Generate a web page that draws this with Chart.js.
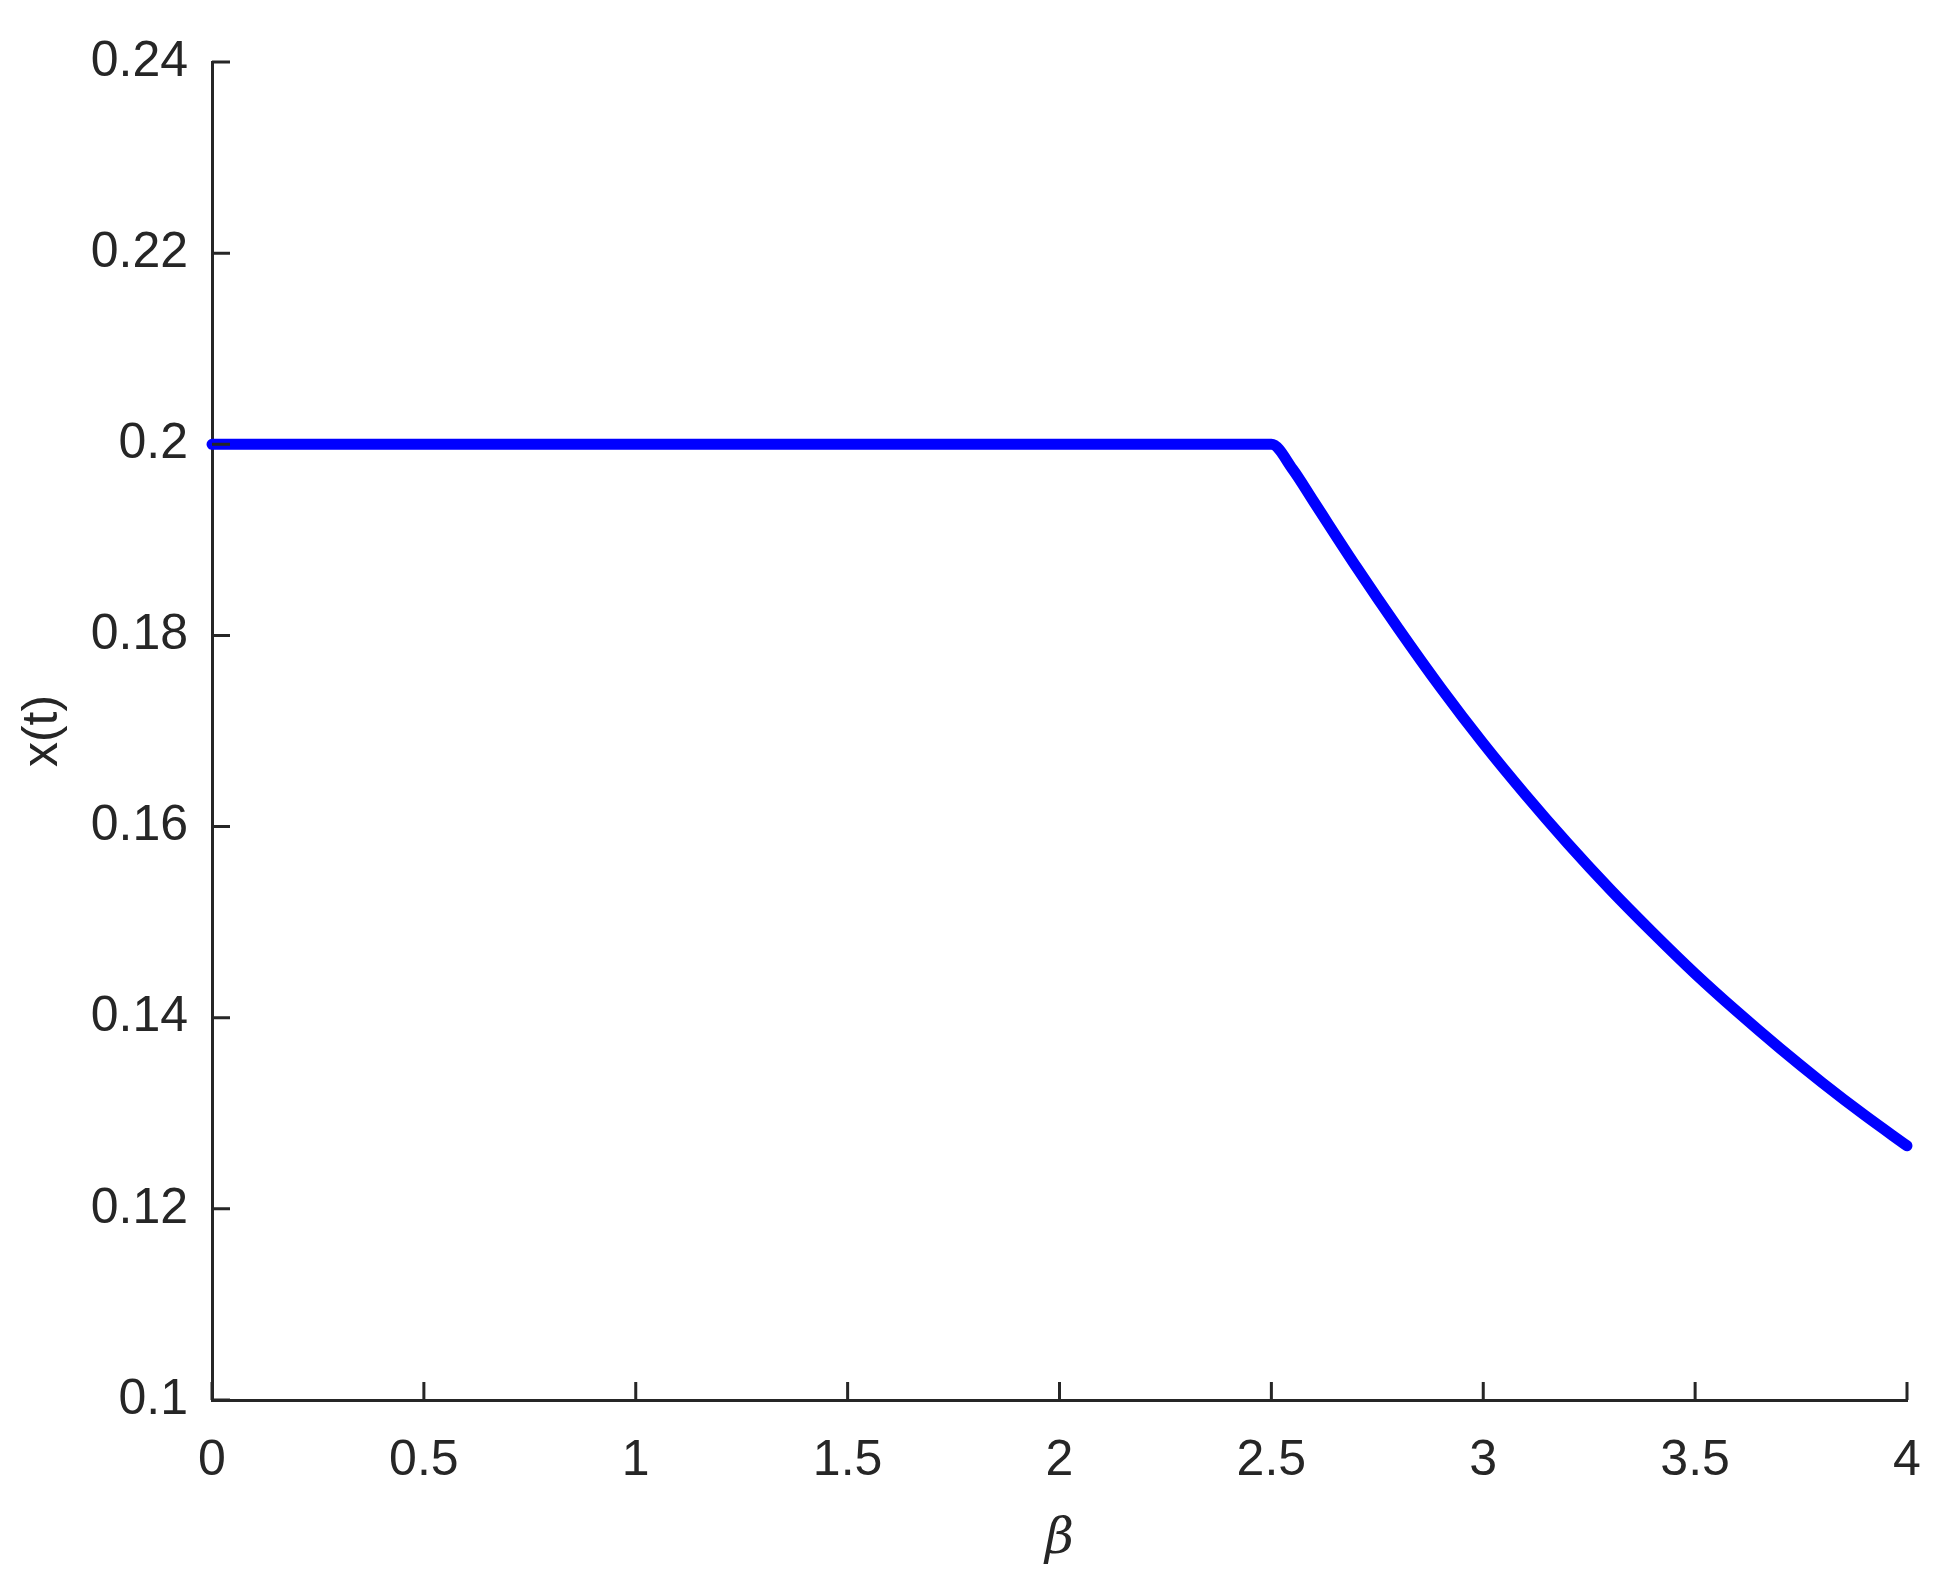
<!DOCTYPE html>
<html lang="en">
<head>
    <meta charset="UTF-8">
    <title>x(t) vs beta</title>
    <script src="https://cdn.jsdelivr.net/npm/chart.js"></script>
    <style>
        html, body { margin: 0; padding: 0; background: #ffffff; }
        #wrap { width: 1943px; height: 1593px; position: relative; }
    </style>
</head>
<body>
<div id="wrap">
    <canvas id="dataChart"></canvas>
</div>

<script>
    // values
    const betaValues = [0, 0.25, 0.5, 0.75, 1, 1.25, 1.5, 1.75, 2, 2.25, 2.5,
                        2.55, 2.6, 2.7, 2.8, 2.9, 3, 3.1, 3.2, 3.3, 3.4, 3.5, 3.6, 3.7, 3.8, 3.9, 4];
    const xValues = [0.2, 0.2, 0.2, 0.2, 0.2, 0.2, 0.2, 0.2, 0.2, 0.2, 0.2,
                     0.1974, 0.1940, 0.1872, 0.1807, 0.1745, 0.1687, 0.1633, 0.1582, 0.1534, 0.1489,
                     0.1446, 0.1406, 0.1368, 0.1332, 0.1298, 0.1266];
    const xTicks = [0, 0.5, 1, 1.5, 2, 2.5, 3, 3.5, 4];
    const yTicks = [0.1, 0.12, 0.14, 0.16, 0.18, 0.2, 0.22, 0.24];

    const axisColor = '#262626';
    const tickFont = { family: '"Liberation Sans", Arial, sans-serif', size: 50 };

    // MATLAB style ticks pointing into the plot
    const innerTicks = {
        id: 'innerTicks',
        afterDraw(chart) {
            const { ctx, chartArea, scales } = chart;
            ctx.save();
            ctx.strokeStyle = axisColor;
            ctx.lineWidth = 3;
            ctx.beginPath();
            xTicks.forEach(v => {
                const px = scales.x.getPixelForValue(v);
                ctx.moveTo(px, chartArea.bottom);
                ctx.lineTo(px, chartArea.bottom - 18);
            });
            yTicks.forEach(v => {
                const py = scales.y.getPixelForValue(v);
                ctx.moveTo(chartArea.left, py);
                ctx.lineTo(chartArea.left + 18, py);
            });
            ctx.stroke();
            ctx.restore();
        }
    };

    const ctx = document.getElementById('dataChart').getContext('2d');
    const chart = new Chart(ctx, {
        type: 'line',
        data: {
            datasets: [{
                data: betaValues.map((b, i) => ({ x: b, y: xValues[i] })),
                borderColor: '#0000ff',
                backgroundColor: '#0000ff',
                borderWidth: 11,
                borderCapStyle: 'round',
                borderJoinStyle: 'round',
                pointRadius: 0,
                cubicInterpolationMode: 'monotone',
                clip: 12
            }]
        },
        options: {
            responsive: true,
            maintainAspectRatio: false,
            animation: false,
            layout: { padding: { top: 62, right: 36, left: 0, bottom: 0 } },
            plugins: {
                legend: { display: false },
                tooltip: { enabled: false }
            },
            scales: {
                x: {
                    type: 'linear',
                    min: 0,
                    max: 4,
                    afterBuildTicks: axis => { axis.ticks = xTicks.map(v => ({ value: v })); },
                    afterFit: axis => {
                        axis.height = 193;
                        axis.paddingLeft = 0;
                        axis.paddingRight = 0;
                    },
                    grid: { display: false, drawTicks: false },
                    border: { display: true, color: axisColor, width: 3 },
                    ticks: {
                        color: axisColor,
                        font: tickFont,
                        padding: 31,
                        maxRotation: 0,
                        callback: v => String(v)
                    },
                    title: {
                        display: true,
                        text: 'β',
                        color: axisColor,
                        font: { family: '"DejaVu Serif", "Liberation Serif", serif', size: 50, style: 'italic' },
                        padding: { top: 0, bottom: 23 }
                    }
                },
                y: {
                    min: 0.1,
                    max: 0.24,
                    afterBuildTicks: axis => { axis.ticks = yTicks.map(v => ({ value: v })); },
                    afterFit: axis => {
                        axis.width = 212;
                        axis.paddingTop = 0;
                        axis.paddingBottom = 0;
                    },
                    grid: { display: false, drawTicks: false },
                    border: { display: true, color: axisColor, width: 3 },
                    ticks: {
                        color: axisColor,
                        font: tickFont,
                        padding: 24,
                        callback: v => String(Number(v.toFixed(2)))
                    },
                    title: {
                        display: true,
                        text: 'x(t)',
                        color: axisColor,
                        font: tickFont,
                        padding: { top: 13, bottom: 0 }
                    }
                }
            }
        },
        plugins: [innerTicks]
    });
</script>
</body>
</html>
